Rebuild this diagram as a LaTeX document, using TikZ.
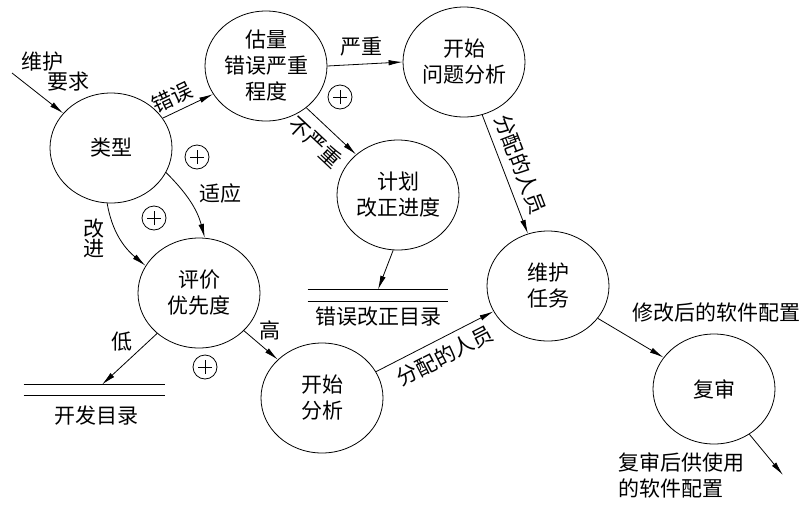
\documentclass[tikz,border=0pt]{standalone}
\usepackage{fontspec}
\newfontfamily\cjk{Noto Sans CJK SC}
\usetikzlibrary{arrows.meta,positioning,calc,shapes.geometric}
\tikzset{
  procnode/.style={draw, ellipse, minimum width=122pt, minimum height=110pt, inner sep=0pt, align=center, font=\cjk\fontsize{21}{26}\selectfont},
  flowlabel/.style={inner sep=2pt, align=center, font=\cjk\fontsize{21}{26}\selectfont},
  storenode/.style={minimum width=141pt, minimum height=10pt, inner sep=0pt},
  plusmark/.style={draw, circle, minimum size=24pt, inner sep=0pt,
    path picture={\draw ([xshift=-7pt]path picture bounding box.center) -- ([xshift=7pt]path picture bounding box.center)
      ([yshift=-7pt]path picture bounding box.center) -- ([yshift=7pt]path picture bounding box.center);}},
  flow/.style={-{Latex[length=14pt,width=5.5pt]}, line width=0.8pt}
}
\begin{document}
\begin{tikzpicture}[x=1pt, y=1pt, line width=0.8pt]
\useasboundingbox (0,0) rectangle (809,-504);
\node[procnode] (kind) at (111,-148) {类型};
\node[procnode] (assess) at (266,-66) {估量\\错误严重\\程度};
\node[procnode] (diag) at (464,-62) {开始\\问题分析};
\node[procnode] (sched) at (398,-195) {计划\\改正进度};
\node[procnode] (prio) at (199,-293) {评价\\优先度};
\node[procnode] (analyse) at (322,-398) {开始\\分析};
\node[procnode] (task) at (548,-286) {维护\\任务};
\node[procnode] (review) at (714,-389) {复审};
% stores
\node[storenode] (devlist) at (94.5,-390) {};
\node[storenode, minimum width=140pt, minimum height=11pt] (fixlist) at (378,-295.5) {};
\foreach \s in {devlist, fixlist}
  \draw (\s.north west) -- (\s.north east) (\s.south west) -- (\s.south east);
\node[flowlabel, below=8pt of devlist, xshift=2pt] (devname) {开发目录};
\node[flowlabel, below=3pt of fixlist] (fixname) {错误改正目录};
% plus marks
\node[plusmark] (plusA) at (197,-157) {};
\node[plusmark] (plusB) at (154,-218) {};
\node[plusmark] (plusC) at (340,-97) {};
\node[plusmark] (plusD) at (205,-367) {};
% free ends and texts
\coordinate (req) at (12,-73);
\coordinate (done) at (783,-475);
\node[flowlabel, align=left, anchor=west] (reqname) at (19,-72) {维护\\[-6pt]\hspace{26pt}要求};
\node[flowlabel] (modname) at (716,-313) {修改后的软件配置};
\node[flowlabel, align=left] (outname) at (681,-475) {复审后供使用\\的软件配置};
% flows
\draw[flow] (req) -- (kind.144);
\draw[flow] (kind.30) -- node[flowlabel, sloped, above, pos=0.32, inner sep=5pt] {错误} (assess.208);
\draw[flow] (assess.0) -- node[flowlabel, above, pos=0.46, inner sep=8pt] {严重} (diag.180);
\draw[flow] (assess.-46) -- node[flowlabel, sloped, below, pos=0.44, inner sep=9pt] {不严重} (sched.136);
\draw[flow] (diag.-71) -- node[flowlabel, sloped, above, pos=0.47, inner sep=8pt] {分配的人员} (task.111);
\draw[flow] (kind.-24) to[out=-45, in=105] node[flowlabel, right=13pt, pos=0.35] {适应} (prio.84);
\draw[flow] (kind.-94) to[out=-80, in=140] node[flowlabel, left=13pt, pos=0.5] {改\\[-6pt]进} (prio.153);
\draw[flow] (prio.-136) -- node[flowlabel, above left, pos=0.4] {低} ($(devlist.north)+(7.5,0)$);
\draw[flow] (prio.-40) -- node[flowlabel, above right, pos=0.4] {高} (analyse.139);
\draw[flow] (sched.-95) -- (fixlist.north);
\draw[flow] (analyse.26) -- node[flowlabel, sloped, below, pos=0.52, inner sep=7pt] {分配的人员} (task.205);
\draw[flow] (task.-33) -- (review.148);
\draw[flow] (review.-52) -- (done);
\end{tikzpicture}
\end{document}
